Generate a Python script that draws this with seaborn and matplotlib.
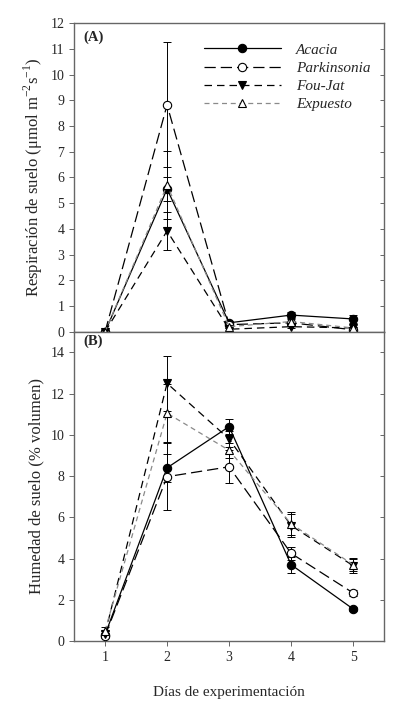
import matplotlib
matplotlib.use("Agg")
import matplotlib.pyplot as plt
import numpy as np
import pandas as pd
import seaborn as sns

# Days of the experiment
dias = [1, 2, 3, 4, 5]
tratamientos = ["Acacia", "Parkinsonia", "Fou-Jat", "Expuesto"]

# (A) soil respiration, mean and error
resp_acacia = [0.0, 5.55, 0.35, 0.65, 0.50]
resp_parkinsonia = [0.0, 8.82, 0.28, 0.35, 0.08]
resp_foujat = [0.0, 3.92, 0.10, 0.20, 0.15]
resp_expuesto = [0.0, 5.70, 0.20, 0.40, 0.15]
err_resp_acacia = [0.0, 0.45, 0.08, 0.12, 0.15]
err_resp_parkinsonia = [0.0, 2.43, 0.05, 0.08, 0.05]
err_resp_foujat = [0.0, 0.74, 0.05, 0.05, 0.05]
err_resp_expuesto = [0.0, 1.32, 0.05, 0.08, 0.05]

# (B) soil moisture, mean and error
hum_acacia = [0.30, 8.40, 10.40, 3.70, 1.55]
hum_parkinsonia = [0.25, 7.97, 8.45, 4.25, 2.33]
hum_foujat = [0.35, 12.50, 9.80, 5.60, 3.65]
hum_expuesto = [0.50, 11.05, 9.25, 5.68, 3.70]
err_hum_acacia = [0.10, 0.68, 0.35, 0.38, 0.12]
err_hum_parkinsonia = [0.10, 1.62, 0.80, 0.32, 0.15]
err_hum_foujat = [0.15, 1.35, 0.40, 0.58, 0.35]
err_hum_expuesto = [0.20, 1.40, 0.35, 0.56, 0.33]

resp = [resp_acacia, resp_parkinsonia, resp_foujat, resp_expuesto]
err_resp = [err_resp_acacia, err_resp_parkinsonia, err_resp_foujat, err_resp_expuesto]
hum = [hum_acacia, hum_parkinsonia, hum_foujat, hum_expuesto]
err_hum = [err_hum_acacia, err_hum_parkinsonia, err_hum_foujat, err_hum_expuesto]

estilos = {
    "Acacia": dict(color="black", marker="o", mfc="black", ls="-"),
    "Parkinsonia": dict(color="black", marker="o", mfc="white", ls=(0, (9, 4))),
    "Fou-Jat": dict(color="black", marker="v", mfc="black", ls=(0, (6, 4))),
    "Expuesto": dict(color="#8a8a8a", marker="^", mfc="white", ls=(0, (4, 3))),
}

sns.set_style("ticks")
plt.rcParams["font.family"] = ["Liberation Serif", "DejaVu Serif"]
plt.rcParams["mathtext.fontset"] = "custom"
plt.rcParams["mathtext.rm"] = "Liberation Serif"

fig = plt.figure(figsize=(3.96, 7.09), dpi=100)
ax1 = fig.add_axes([0.187, 0.532, 0.783, 0.4355])
ax2 = fig.add_axes([0.187, 0.096, 0.783, 0.436])


def dibujar(ax, valores, errores, clip):
    for trat, y, e in zip(tratamientos, valores, errores):
        st = estilos[trat]
        df = pd.DataFrame({"dia": dias, "valor": y})
        ax.errorbar(dias, y, yerr=e, fmt="none", ecolor="black", elinewidth=0.7,
                    capsize=3, capthick=0.7, zorder=2, clip_on=clip)
        sns.lineplot(data=df, x="dia", y="valor", ax=ax, color=st["color"],
                     linestyle=st["ls"], linewidth=0.9, marker=st["marker"],
                     markersize=6, markerfacecolor=st["mfc"],
                     markeredgecolor="black", markeredgewidth=0.8,
                     label=trat, zorder=3, clip_on=clip)


dibujar(ax1, resp, err_resp, False)
dibujar(ax2, hum, err_hum, True)

for ax in (ax1, ax2):
    ax.set_xlim(0.5, 5.5)
    for s in ax.spines.values():
        s.set_visible(True)
        s.set_color("#666666")
        s.set_linewidth(1.0)
    ax.tick_params(axis="both", labelsize=10, length=3.5, width=0.7, color="#666666")
    ax.set_xlabel("")

ax1.set_ylim(0, 12)
ax1.set_yticks(range(0, 13))
ax1.set_xticks([])
ax2.set_ylim(0, 15)
ax2.set_yticks(range(0, 15, 2))
ax2.set_xticks(dias)

for ax in (ax1, ax2):
    sec = ax.secondary_yaxis("right")
    sec.set_yticks(ax.get_yticks())
    sec.tick_params(direction="in", length=3, width=0.7, color="#666666", labelright=False)
    sec.spines["right"].set_visible(False)

ax1.set_ylabel("Respiración de suelo (μmol m$^{-2}$s$^{-1}$)", fontsize=12, labelpad=4)
ax2.set_ylabel("Humedad de suelo (% volumen)", fontsize=12, labelpad=4)
ax2.set_xlabel("Días de experimentación", fontsize=11, labelpad=16)

ax1.text(0.03, 0.975, "(A)", transform=ax1.transAxes, fontsize=10.5, fontweight="bold", va="top")
ax2.text(0.03, 0.99, "(B)", transform=ax2.transAxes, fontsize=10.5, fontweight="bold", va="top")

leg = ax1.legend(loc="upper right", bbox_to_anchor=(1.0, 0.98), frameon=False,
                 handlelength=5.0, handletextpad=1.0, labelspacing=0.3, fontsize=11)
for t in leg.get_texts():
    t.set_fontstyle("italic")
ax2.get_legend().remove() if ax2.get_legend() else None

fig.savefig("out.png", dpi=100)
